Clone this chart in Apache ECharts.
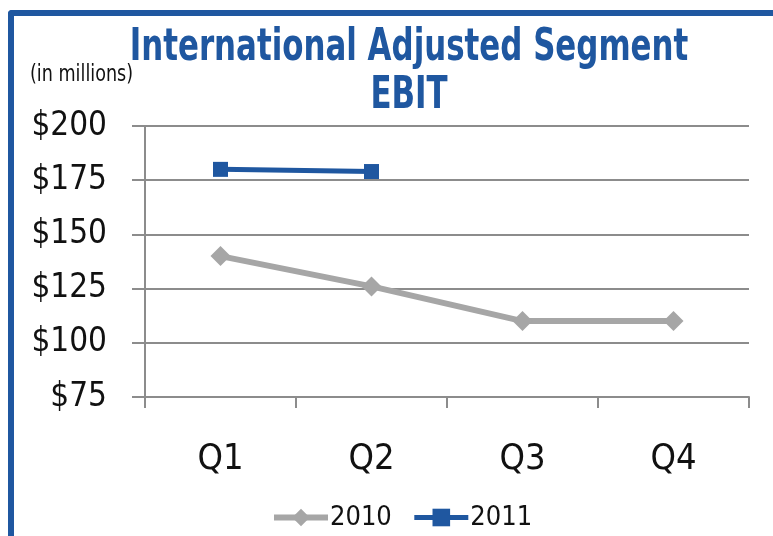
<!DOCTYPE html>
<html>
<head>
<meta charset="utf-8">
<script src="https://cdn.jsdelivr.net/npm/echarts@6/dist/echarts.min.js"></script>
<style>
html,body{margin:0;padding:0;background:#fff;}
#chart{width:773px;height:536px;}
</style>
</head>
<body>
<div id="chart"></div>
<script>
var categories = ['Q1', 'Q2', 'Q3', 'Q4'];
var values2010 = [140, 126, 110, 110];
var values2011 = [180, 179, null, null];
var seriesNames = ['2010', '2011'];
var titleLines = ['International Adjusted Segment', 'EBIT'];
var unitText = '(in millions)';

var FONT = "'Liberation Sans Narrow', 'DejaVu Sans Condensed', 'Arial Narrow', sans-serif";
var BLUE = '#1f57a0';
var GRAY = '#a6a6a6';
var AXIS = '#8c8c8c';

var chart = echarts.init(document.getElementById('chart'));
chart.setOption({
  animation: false,
  backgroundColor: '#fff',
  graphic: [
    { type: 'rect', shape: { x: 8, y: 10, width: 800, height: 6, r: [4, 0, 0, 0] }, style: { fill: BLUE }, silent: true },
    { type: 'rect', shape: { x: 8, y: 10, width: 6, height: 540, r: [4, 0, 0, 0] }, style: { fill: BLUE }, silent: true },
    { type: 'text', x: 409, y: 49, scaleX: 0.78, silent: true,
      style: { text: titleLines[0], font: 'bold 44px ' + FONT, fill: BLUE, align: 'center', verticalAlign: 'middle' } },
    { type: 'text', x: 409, y: 97, scaleX: 0.78, silent: true,
      style: { text: titleLines[1], font: 'bold 44px ' + FONT, fill: BLUE, align: 'center', verticalAlign: 'middle' } },
    { type: 'text', x: 30, y: 75, scaleX: 0.85, silent: true,
      style: { text: unitText, font: '23px ' + FONT, fill: '#111', align: 'left', verticalAlign: 'middle' } }
  ],
  legend: {
    bottom: 0,
    left: 266,
    itemWidth: 54,
    itemHeight: 22,
    itemGap: 20,
    textStyle: { fontFamily: FONT, fontSize: 27, color: '#111', padding: [0, 0, 0, -3] },
    data: [
      { name: seriesNames[0], lineStyle: { width: 6, color: GRAY } },
      { name: seriesNames[1], lineStyle: { width: 5, color: BLUE } }
    ]
  },
  grid: { left: 145, right: 24, top: 126, bottom: 139 },
  xAxis: {
    type: 'category',
    data: categories,
    boundaryGap: true,
    axisLine: { show: true, lineStyle: { color: AXIS, width: 2 } },
    axisTick: { show: true, length: 11, lineStyle: { color: AXIS, width: 2 } },
    axisLabel: { margin: 45, fontFamily: FONT, fontSize: 36, color: '#111' },
    splitLine: { show: false }
  },
  yAxis: {
    type: 'value',
    min: 75,
    max: 200,
    interval: 25,
    axisLine: { show: true, lineStyle: { color: AXIS, width: 2 } },
    axisTick: { show: true, length: 13, lineStyle: { color: AXIS, width: 2 } },
    axisLabel: {
      margin: 38,
      fontFamily: FONT,
      fontSize: 33,
      color: '#111',
      formatter: function (v) { return '$' + v; }
    },
    splitLine: { show: true, lineStyle: { color: AXIS, width: 2 } }
  },
  series: [
    {
      name: seriesNames[0],
      type: 'line',
      data: values2010,
      symbol: 'diamond',
      symbolSize: 20,
      itemStyle: { color: GRAY },
      lineStyle: { color: GRAY, width: 6 }
    },
    {
      name: seriesNames[1],
      type: 'line',
      data: values2011,
      symbol: 'rect',
      symbolSize: 15,
      itemStyle: { color: BLUE },
      lineStyle: { color: BLUE, width: 5 }
    }
  ]
});
</script>
</body>
</html>
